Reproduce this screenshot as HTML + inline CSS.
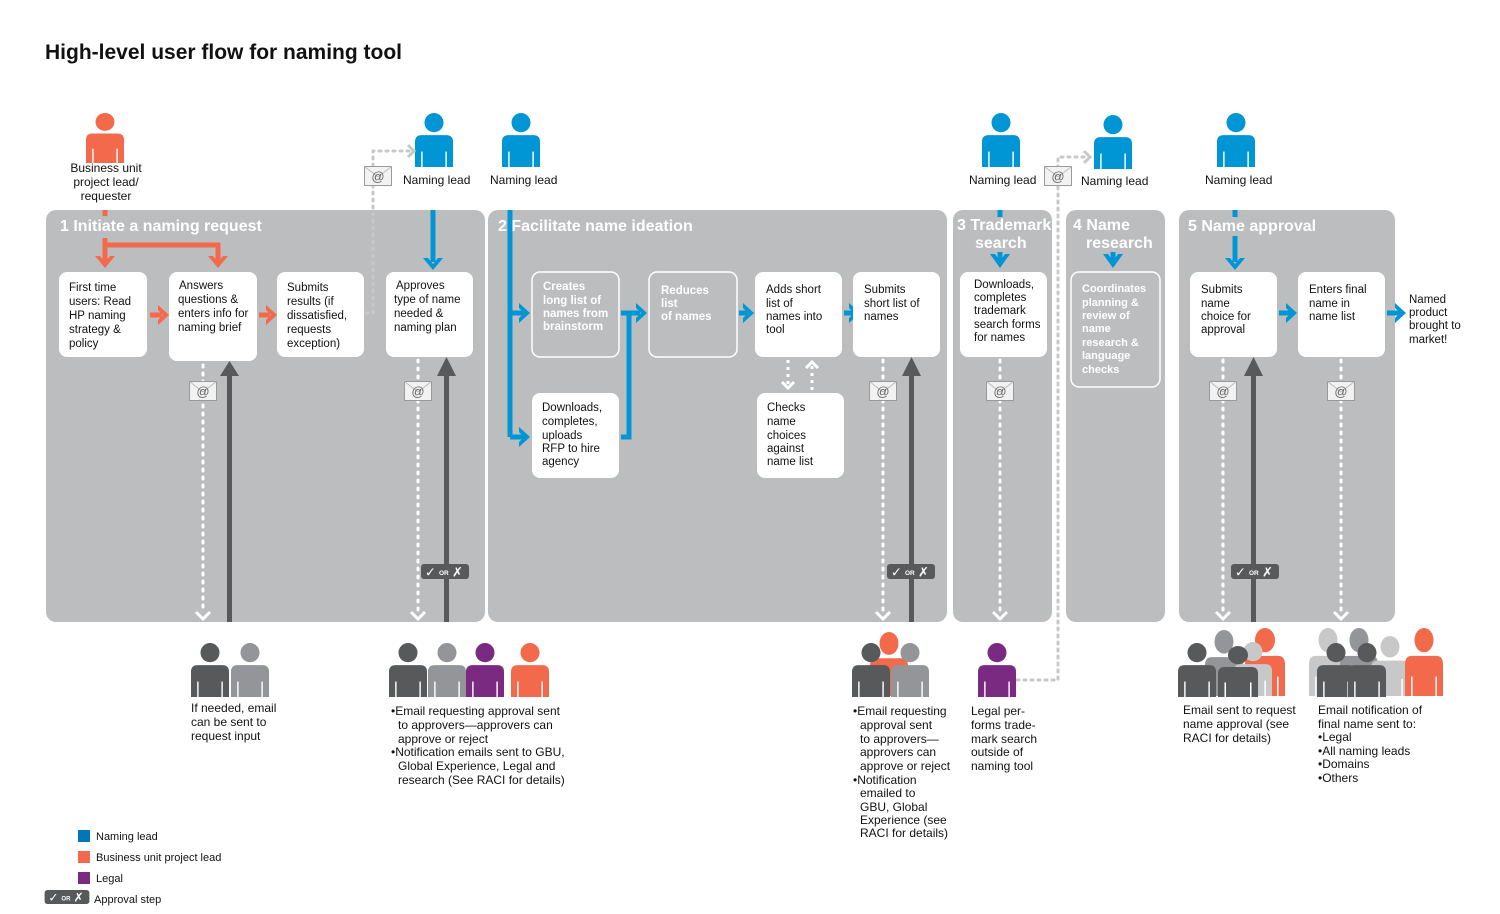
<!DOCTYPE html>
<html><head><meta charset="utf-8"><style>
html,body{margin:0;padding:0;background:#fff}
svg{display:block;font-family:"Liberation Sans",Arial,sans-serif}
.bt{font-size:11.5px;fill:#111}
.wt{font-size:11.5px;fill:#fff;font-weight:bold}
.ph{font-size:16px;fill:#fff;font-weight:bold}
.lb{font-size:12px;fill:#111}
.lg{font-size:11px;fill:#111}
</style></head><body>
<svg width="1500" height="914" viewBox="0 0 1500 914" xmlns="http://www.w3.org/2000/svg">
<defs>
<symbol id="p" viewBox="0 0 40 56" preserveAspectRatio="none">
<circle cx="20" cy="10" r="10"/>
<path d="M0 30 Q0 23 7 23 H33 Q40 23 40 30 V56 H0 Z"/>
<rect x="6.5" y="40" width="1.5" height="16" fill="#fff"/>
<rect x="32" y="40" width="1.5" height="16" fill="#fff"/>
</symbol>
<symbol id="m" viewBox="0 0 28 20">
<rect x="0.5" y="0.5" width="27" height="19" fill="#f2f2f2" stroke="#999"/>
<path d="M0.5 0.5 L14 11 L27.5 0.5" fill="none" stroke="#bbb"/>
<text x="14" y="15" font-size="13" text-anchor="middle" fill="#666" font-family="Liberation Sans,sans-serif">@</text>
</symbol>
<symbol id="ap" viewBox="0 0 48 15">
<rect x="0" y="0" width="48" height="15" rx="3" fill="#58595b"/>
<text x="4" y="12.5" font-size="13" font-weight="bold" fill="#fff" font-family="DejaVu Sans,sans-serif">✓</text>
<text x="18" y="11" font-size="6.5" font-weight="bold" fill="#fff" font-family="Liberation Sans,sans-serif">OR</text>
<text x="31" y="12.5" font-size="13" font-weight="bold" fill="#fff" font-family="DejaVu Sans,sans-serif">✗</text>
</symbol>
</defs>

<text x="45" y="59" font-size="21" font-weight="bold" fill="#111">High-level user flow for naming tool</text>

<!-- panels -->
<g fill="#bcbdbf">
<rect x="46" y="210" width="439" height="412" rx="10"/>
<rect x="488" y="210" width="459" height="412" rx="10"/>
<rect x="953" y="210" width="99" height="412" rx="10"/>
<rect x="1066" y="210" width="99" height="412" rx="10"/>
<rect x="1179" y="210" width="216" height="412" rx="10"/>
</g>
<text class="ph" x="60" y="231">1 Initiate a naming request</text>
<text class="ph" x="498" y="231">2 Facilitate name ideation</text>
<text class="ph" x="957" y="230">3 Trademark</text>
<text class="ph" x="975" y="248">search</text>
<text class="ph" x="1073" y="230">4 Name</text>
<text class="ph" x="1086" y="248">research</text>
<text class="ph" x="1188" y="231">5 Name approval</text>

<!-- top people -->
<use href="#p" x="86" y="113" width="38" height="50" fill="#f26a4b"/>
<text class="lb" text-anchor="middle"><tspan x="106" y="172">Business unit</tspan><tspan x="106" y="186">project lead/</tspan><tspan x="106" y="200">requester</tspan></text>
<use href="#p" x="415" y="113" width="38" height="54" fill="#0096d6"/>
<text class="lb" x="403" y="184">Naming lead</text>
<use href="#p" x="502" y="113" width="38" height="54" fill="#0096d6"/>
<text class="lb" x="490" y="184">Naming lead</text>
<use href="#p" x="982" y="113" width="38" height="54" fill="#0096d6"/>
<text class="lb" x="969" y="184">Naming lead</text>
<use href="#p" x="1094" y="115" width="38" height="54" fill="#0096d6"/>
<text class="lb" x="1081" y="185">Naming lead</text>
<use href="#p" x="1217" y="113" width="38" height="54" fill="#0096d6"/>
<text class="lb" x="1205" y="184">Naming lead</text>

<!-- grey dotted connectors -->
<g stroke="#c8c8c8" stroke-width="3" stroke-dasharray="2 5" fill="none" stroke-linecap="round">
<path d="M366 313 H373 V151 H410"/>
<path d="M1017 680 H1058 V157 H1086"/>
</g>
<path d="M408 145 L414 151 L408 157" stroke="#c8c8c8" stroke-width="3" fill="none"/>
<path d="M1084 151 L1090 157 L1084 163" stroke="#c8c8c8" stroke-width="3" fill="none"/>
<use href="#m" x="364" y="166" width="28" height="20"/>
<use href="#m" x="1044" y="166" width="28" height="20"/>

<!-- orange connectors -->
<g stroke="#f26a4b" stroke-width="5" fill="none">
<path d="M105 210 V216 M105 238 V246 M103 245 H220 M105 243 V262 M218 243 V262"/>
<path d="M150 315 H162 M259 315 H270"/>
</g>
<g fill="#f26a4b">
<path d="M95 256 L105 268 L115 256 L110 256 L105 262 L100 256Z"/>
<path d="M208 256 L218 268 L228 256 L223 256 L218 262 L213 256Z"/>
<path d="M158 305 L169 315 L158 325 L158 320 L163 315 L158 310Z"/>
<path d="M266 305 L277 315 L266 325 L266 320 L271 315 L266 310Z"/>
</g>

<!-- blue connectors -->
<g stroke="#0096d6" stroke-width="5" fill="none">
<path d="M433 210 V262 M510 210 V437 M510 313 H524 M510 437 H524 M621 437 H629 V313 M621 313 H640 M739 313 H748 M844 313 H853 M1000 210 V217 M1000 252 V262 M1113 252 V262 M1235 210 V217 M1235 236 V262 M1279 313 H1291 M1387 313 H1400"/>
</g>
<g fill="#0096d6">
<path d="M423 258 L433 270 L443 258 L438 258 L433 264 L428 258Z"/>
<path d="M990 254 L1000 268 L1010 254 L1005 254 L1000 261 L995 254Z"/>
<path d="M1103 254 L1113 268 L1123 254 L1118 254 L1113 261 L1108 254Z"/>
<path d="M1225 258 L1235 270 L1245 258 L1240 258 L1235 264 L1230 258Z"/>
<path d="M519 303 L530 313 L519 323 L519 318 L524 313 L519 308Z"/>
<path d="M519 427 L530 437 L519 447 L519 442 L524 437 L519 432Z"/>
<path d="M636 303 L647 313 L636 323 L636 318 L641 313 L636 308Z"/>
<path d="M743 303 L754 313 L743 323 L743 318 L748 313 L743 308Z"/>
<path d="M849 303 L860 313 L849 323 L849 318 L854 313 L849 308Z"/>
<path d="M1286 303 L1297 313 L1286 323 L1286 318 L1291 313 L1286 308Z"/>
<path d="M1395 303 L1406 313 L1395 323 L1395 318 L1400 313 L1395 308Z"/>
</g>

<!-- boxes -->
<g fill="#fff">
<rect x="59" y="272" width="88" height="85" rx="8"/>
<rect x="169" y="272" width="88" height="89" rx="8"/>
<rect x="277" y="272" width="87" height="85" rx="8"/>
<rect x="386" y="272" width="87" height="85" rx="8"/>
<rect x="532" y="393" width="87" height="85" rx="8"/>
<rect x="755" y="272" width="87" height="85" rx="8"/>
<rect x="757" y="393" width="87" height="85" rx="8"/>
<rect x="853" y="272" width="87" height="85" rx="8"/>
<rect x="960" y="272" width="87" height="85" rx="8"/>
<rect x="1190" y="272" width="87" height="85" rx="8"/>
<rect x="1298" y="272" width="87" height="85" rx="8"/>
</g>
<g fill="#bcbdbf" stroke="#fff" stroke-width="1.5">
<rect x="532" y="272" width="87" height="85" rx="8"/>
<rect x="649" y="272" width="88" height="85" rx="8"/>
<rect x="1071" y="272" width="89" height="115" rx="8"/>
</g>
<text class="bt"><tspan x="69" y="291">First time</tspan><tspan x="69" y="305">users: Read</tspan><tspan x="69" y="319">HP naming</tspan><tspan x="69" y="333">strategy &amp;</tspan><tspan x="69" y="347">policy</tspan></text>
<text class="bt"><tspan x="179" y="289">Answers</tspan><tspan x="178" y="303">questions &amp;</tspan><tspan x="178" y="317">enters info for</tspan><tspan x="178" y="331">naming brief</tspan></text>
<text class="bt"><tspan x="287" y="291">Submits</tspan><tspan x="287" y="305">results (if</tspan><tspan x="287" y="319">dissatisfied,</tspan><tspan x="287" y="333">requests</tspan><tspan x="287" y="347">exception)</tspan></text>
<text class="bt"><tspan x="396" y="289">Approves</tspan><tspan x="394" y="303">type of name</tspan><tspan x="394" y="317">needed &amp;</tspan><tspan x="394" y="331">naming plan</tspan></text>
<text class="wt"><tspan x="543" y="290">Creates</tspan><tspan x="543" y="304">long list of</tspan><tspan x="543" y="317">names from</tspan><tspan x="543" y="330">brainstorm</tspan></text>
<text class="wt"><tspan x="661" y="294">Reduces</tspan><tspan x="661" y="307">list</tspan><tspan x="661" y="320">of names</tspan></text>
<text class="bt"><tspan x="542" y="411">Downloads,</tspan><tspan x="542" y="425">completes,</tspan><tspan x="542" y="439">uploads</tspan><tspan x="542" y="452">RFP to hire</tspan><tspan x="542" y="465">agency</tspan></text>
<text class="bt"><tspan x="766" y="293">Adds short</tspan><tspan x="766" y="307">list of</tspan><tspan x="766" y="320">names into</tspan><tspan x="766" y="333">tool</tspan></text>
<text class="bt"><tspan x="767" y="411">Checks</tspan><tspan x="767" y="425">name</tspan><tspan x="767" y="439">choices</tspan><tspan x="767" y="452">against</tspan><tspan x="767" y="465">name list</tspan></text>
<text class="bt"><tspan x="864" y="293">Submits</tspan><tspan x="864" y="307">short list of</tspan><tspan x="864" y="320">names</tspan></text>
<text class="bt"><tspan x="974" y="288">Downloads,</tspan><tspan x="974" y="301">completes</tspan><tspan x="974" y="314">trademark</tspan><tspan x="974" y="328">search forms</tspan><tspan x="974" y="341">for names</tspan></text>
<text class="wt" style="font-size:11px"><tspan x="1082" y="292">Coordinates</tspan><tspan x="1082" y="306">planning  &amp;</tspan><tspan x="1082" y="319">review of</tspan><tspan x="1082" y="332">name</tspan><tspan x="1082" y="346">research &amp;</tspan><tspan x="1082" y="359">language</tspan><tspan x="1082" y="373">checks</tspan></text>
<text class="bt"><tspan x="1201" y="293">Submits</tspan><tspan x="1201" y="307">name</tspan><tspan x="1201" y="320">choice for</tspan><tspan x="1201" y="333">approval</tspan></text>
<text class="bt"><tspan x="1309" y="293">Enters final</tspan><tspan x="1309" y="307">name in</tspan><tspan x="1309" y="320">name list</tspan></text>
<text class="bt"><tspan x="1409" y="303">Named</tspan><tspan x="1409" y="316">product</tspan><tspan x="1409" y="329">brought to</tspan><tspan x="1409" y="343">market!</tspan></text>

<!-- check dashed arrows -->
<g stroke="#fff" stroke-width="3" fill="none">
<path d="M788 360 V386" stroke-dasharray="3 4"/>
<path d="M812 390 V366" stroke-dasharray="3 4"/>
<path d="M782 382 L788 388 L794 382"/>
<path d="M806 368 L812 362 L818 368"/>
</g>

<!-- dotted white down + dark up arrows -->
<g stroke="#fff" stroke-width="3" stroke-dasharray="2 6" stroke-linecap="round" fill="none">
<path d="M203 365 V610"/><path d="M418 360 V610"/><path d="M883 360 V610"/>
<path d="M1000 360 V610"/><path d="M1223 360 V610"/><path d="M1341 360 V610"/>
</g>
<g stroke="#fff" stroke-width="3" fill="none">
<path d="M196 612 L203 619 L210 612"/><path d="M411 612 L418 619 L425 612"/><path d="M876 612 L883 619 L890 612"/>
<path d="M993 612 L1000 619 L1007 612"/><path d="M1216 612 L1223 619 L1230 612"/><path d="M1334 612 L1341 619 L1348 612"/>
</g>
<g fill="#58595b">
<rect x="227" y="374" width="5" height="248"/><path d="M220 376 L229.5 361 L239 376Z"/>
<rect x="444" y="374" width="5" height="248"/><path d="M437 376 L446.5 357 L456 376Z"/>
<rect x="909" y="374" width="5" height="248"/><path d="M902 376 L911.5 357 L921 376Z"/>
<rect x="1251" y="374" width="5" height="248"/><path d="M1244 376 L1253.5 357 L1263 376Z"/>
</g>
<use href="#ap" x="421" y="564" width="48" height="15"/>
<use href="#ap" x="887" y="564" width="48" height="15"/>
<use href="#ap" x="1231" y="564" width="48" height="15"/>
<use href="#m" x="189" y="381" width="28" height="20"/>
<use href="#m" x="404" y="381" width="28" height="20"/>
<use href="#m" x="869" y="381" width="28" height="20"/>
<use href="#m" x="986" y="381" width="28" height="20"/>
<use href="#m" x="1209" y="381" width="28" height="20"/>
<use href="#m" x="1327" y="381" width="28" height="20"/>

<!-- bottom people -->
<use href="#p" x="191" y="643" width="38" height="54" fill="#58595b"/>
<use href="#p" x="231" y="643" width="38" height="54" fill="#939598"/>
<text class="lb"><tspan x="191" y="712">If needed, email</tspan><tspan x="191" y="726">can be sent to</tspan><tspan x="191" y="740">request input</tspan></text>

<use href="#p" x="389" y="643" width="38" height="54" fill="#58595b"/>
<use href="#p" x="428" y="643" width="38" height="54" fill="#939598"/>
<use href="#p" x="466" y="643" width="38" height="54" fill="#7b2a82"/>
<use href="#p" x="511" y="643" width="38" height="54" fill="#f26a4b"/>
<text class="lb"><tspan x="391" y="715">•Email requesting approval sent</tspan><tspan x="398" y="729">to approvers—approvers can</tspan><tspan x="398" y="743">approve or reject</tspan><tspan x="391" y="756">•Notification emails sent to GBU,</tspan><tspan x="398" y="770">Global Experience, Legal and</tspan><tspan x="398" y="784">research (See RACI for details)</tspan></text>

<use href="#p" x="870" y="632" width="38" height="64" fill="#f26a4b"/>
<use href="#p" x="852" y="643" width="38" height="54" fill="#58595b"/>
<use href="#p" x="891" y="643" width="38" height="54" fill="#939598"/>
<text class="lb"><tspan x="853" y="715">•Email requesting</tspan><tspan x="860" y="729">approval sent</tspan><tspan x="860" y="743">to approvers—</tspan><tspan x="860" y="756">approvers can</tspan><tspan x="860" y="770">approve or reject</tspan><tspan x="853" y="784">•Notification</tspan><tspan x="860" y="797">emailed to</tspan><tspan x="860" y="811">GBU, Global</tspan><tspan x="860" y="824">Experience (see</tspan><tspan x="860" y="837">RACI for details)</tspan></text>

<use href="#p" x="978" y="643" width="38" height="54" fill="#7b2a82"/>
<text class="lb"><tspan x="971" y="715">Legal per-</tspan><tspan x="971" y="729">forms trade-</tspan><tspan x="971" y="743">mark search</tspan><tspan x="971" y="756">outside of</tspan><tspan x="971" y="770">naming tool</tspan></text>

<use href="#p" x="1245" y="628" width="40" height="68" fill="#f26a4b"/>
<use href="#p" x="1205" y="630" width="38" height="66" fill="#939598"/>
<use href="#p" x="1234" y="642" width="38" height="54" fill="#c8c8c8"/>
<use href="#p" x="1178" y="643" width="38" height="54" fill="#58595b"/>
<use href="#p" x="1218" y="646" width="40" height="51" fill="#58595b"/>
<text class="lb"><tspan x="1183" y="714">Email sent to request</tspan><tspan x="1183" y="728">name approval (see</tspan><tspan x="1183" y="742">RACI for details)</tspan></text>

<use href="#p" x="1309" y="628" width="38" height="68" fill="#c8c8c8"/>
<use href="#p" x="1340" y="628" width="38" height="68" fill="#939598"/>
<use href="#p" x="1371" y="636" width="38" height="60" fill="#c8c8c8"/>
<use href="#p" x="1405" y="628" width="38" height="68" fill="#f26a4b"/>
<use href="#p" x="1317" y="643" width="38" height="54" fill="#58595b"/>
<use href="#p" x="1348" y="643" width="38" height="54" fill="#58595b"/>
<text class="lb"><tspan x="1318" y="714">Email notification of</tspan><tspan x="1318" y="728">final name sent to:</tspan><tspan x="1318" y="741">•Legal</tspan><tspan x="1318" y="755">•All naming leads</tspan><tspan x="1318" y="768">•Domains</tspan><tspan x="1318" y="782">•Others</tspan></text>

<!-- legend -->
<rect x="78" y="830" width="12" height="12" fill="#0075b8"/>
<text class="lg" x="96" y="840">Naming lead</text>
<rect x="78" y="851" width="12" height="12" fill="#f26a4b"/>
<text class="lg" x="96" y="861">Business unit project lead</text>
<rect x="78" y="872" width="12" height="12" fill="#7b2a82"/>
<text class="lg" x="96" y="882">Legal</text>
<use href="#ap" x="44" y="890" width="46" height="14"/>
<text class="lg" x="94" y="903">Approval step</text>
</svg>
</body></html>
